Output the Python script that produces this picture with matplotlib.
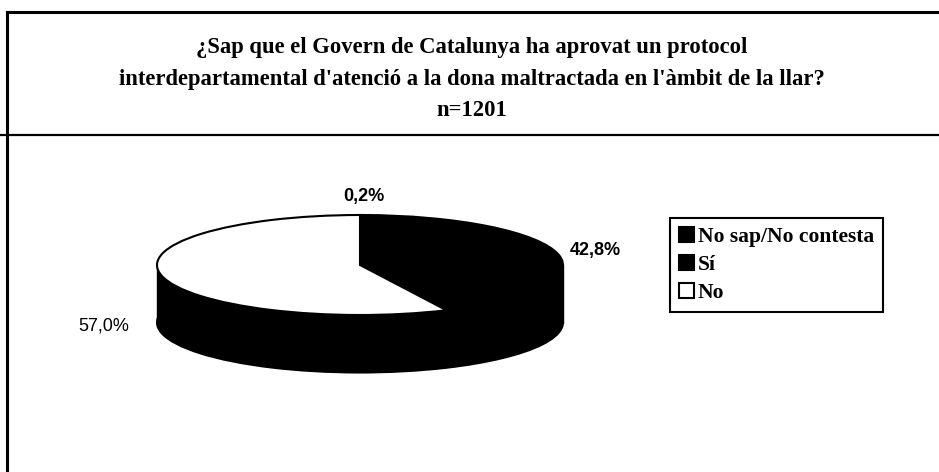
import matplotlib
matplotlib.use('Agg')
import matplotlib.pyplot as plt

# === DATA ===
categories = ['No sap/No contesta', 'Sí', 'No']
values = [0.2, 42.8, 57.0]
value_labels = ['0,2%', '42,8%', '57,0%']
top_colors = ['black', 'black', 'white']
title = ("¿Sap que el Govern de Catalunya ha aprovat un protocol\n"
         "interdepartamental d'atenció a la dona maltractada en l'àmbit de la llar?\n"
         "n=1201")

W, H = 939, 472
fig = plt.figure(figsize=(W / 100, H / 100), dpi=100)

# background frame (pixel coordinates)
bg = fig.add_axes([0, 0, 1, 1])
bg.set_xlim(0, W)
bg.set_ylim(H, 0)
bg.axis('off')
bg.plot([7, W], [12, 12], color='black', lw=2.2)
bg.plot([7, 7], [12, H], color='black', lw=2.2)
bg.plot([0, W], [135, 135], color='black', lw=1.6)

bg.text(472, 79, title, ha='center', va='center', family='Liberation Serif',
        fontweight='bold', fontsize=16.3, linespacing=1.66)

# === PIE (3D look: squashed axes + black side band) ===
left, right, top, bottom = 100, 620, 180, 400
ax = fig.add_axes([left / W, 1 - bottom / H, (right - left) / W, (bottom - top) / H])
cx, cy, a, b = 360, 265, 203, 50

depth = 1.15
ax.pie(values, colors=['black'] * 3, startangle=90, counterclock=False,
       center=(0, -depth), radius=1, frame=True,
       wedgeprops=dict(edgecolor='black', linewidth=1.5))
ax.fill_between([-1, 1], -depth, 0, color='black', lw=1)
wedges, _ = ax.pie(values, colors=top_colors, startangle=90, counterclock=False,
                   center=(0, 0), radius=1, frame=True,
                   wedgeprops=dict(edgecolor='black', linewidth=1.5))
ax.set_aspect('auto')
ax.set_xlim((left - cx) / a, (right - cx) / a)
ax.set_ylim((cy - bottom) / b, (cy - top) / b)
ax.axis('off')

label_pos = [(0.02, 1.38), (1.16, 0.30), (-1.26, -1.22)]
label_weight = ['bold', 'bold', 'normal']
for txt, (lx, ly), wt in zip(value_labels, label_pos, label_weight):
    ax.text(lx, ly, txt, ha='center', va='center', fontsize=13,
            family='Liberation Sans', fontweight=wt, clip_on=False)

leg = fig.legend(wedges, categories, loc='upper left',
                 bbox_to_anchor=(670 / W, 1 - 218 / H),
                 prop={'family': 'Liberation Serif', 'weight': 'bold', 'size': 15.5},
                 fancybox=False, edgecolor='black', framealpha=1,
                 handlelength=0.7, handleheight=0.7, handletextpad=0.2,
                 borderpad=0.4, labelspacing=0.38, borderaxespad=0)
leg.get_frame().set_linewidth(1.5)

fig.savefig('out.png', dpi=100)
